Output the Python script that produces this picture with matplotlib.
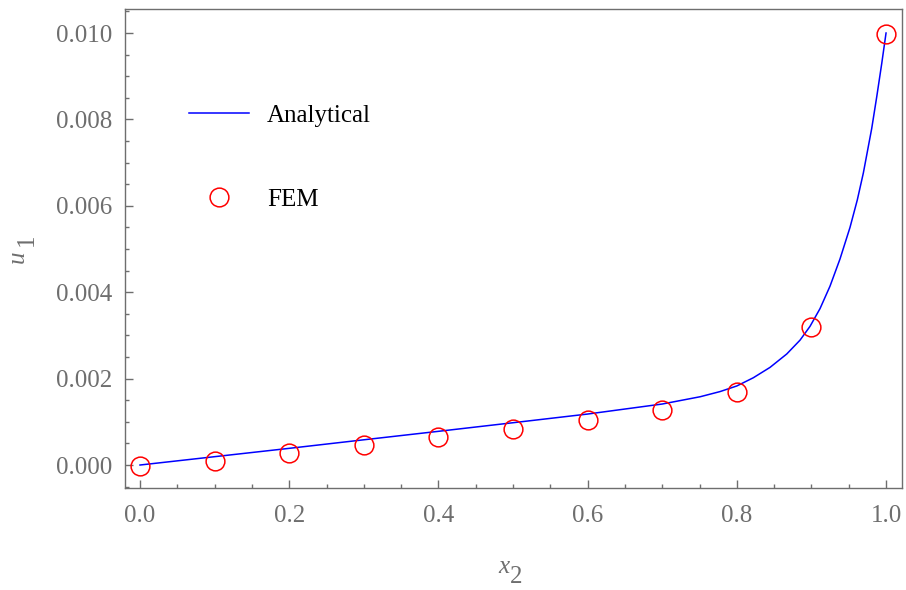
import matplotlib
matplotlib.use("Agg")
import matplotlib.pyplot as plt
from matplotlib.ticker import MultipleLocator, FormatStrFormatter

# Analytical curve, points
ana_x = [0.0, 0.1, 0.2, 0.3, 0.4, 0.5, 0.6, 0.7, 0.751, 0.7775,
         0.8, 0.8221, 0.8445, 0.8669, 0.8847, 0.8981, 0.9115, 0.9249,
         0.9383, 0.9517, 0.9615, 0.9696, 0.9808, 0.9875, 0.9942, 1.0]
ana_y = [0.0, 0.000193, 0.000386, 0.000584, 0.00078, 0.000979,
         0.00118, 0.001412, 0.001581, 0.00170, 0.00183, 0.00202, 0.00226,
         0.00257, 0.00289, 0.00321, 0.00362, 0.00414, 0.00477,
         0.00550, 0.006137, 0.006761, 0.00779, 0.00852, 0.00929, 0.0100]

# FEM points
fem_x = [0.0, 0.1, 0.2, 0.3, 0.4, 0.5, 0.6, 0.7, 0.8, 0.9, 1.0]
fem_y = [-0.00002, 0.00009, 0.00027, 0.000455, 0.00064, 0.000825,
         0.00104, 0.00127, 0.0017, 0.00319, 0.00998]

x_label = ("x", "2")
y_label = ("u", "1")
labels = ["Analytical", "FEM"]

plt.rcParams['font.family'] = ['Liberation Serif', 'DejaVu Serif']

W, H = 906, 590
gray = '#6e6e6e'
fig = plt.figure(figsize=(W / 100, H / 100), dpi=100)
ax = fig.add_axes([125/W, 1-488/H, (902-125)/W, (488-9)/H])

ax.plot(ana_x, ana_y, color=(0, 0, 1), lw=1.1, label=labels[0])
ax.plot(fem_x, fem_y, ls='none', marker='o', ms=13.5, mfc='none',
        mec=(1, 0, 0), mew=1.1, label=labels[1])

ax.set_xlim(-0.0201, 1.0214)
ax.set_ylim(-0.000532, 0.010556)

ax.xaxis.set_major_locator(MultipleLocator(0.2))
ax.xaxis.set_minor_locator(MultipleLocator(0.05))
ax.yaxis.set_major_locator(MultipleLocator(0.002))
ax.yaxis.set_minor_locator(MultipleLocator(0.0005))
ax.xaxis.set_major_formatter(FormatStrFormatter('%.1f'))
ax.yaxis.set_major_formatter(FormatStrFormatter('%.3f'))

ax.tick_params(which='both', direction='in', top=False, right=False,
               colors=gray, labelsize=18, width=1.0)
ax.tick_params(which='major', length=6)
ax.tick_params(which='minor', length=3)
ax.tick_params(axis='y', which='major', pad=9)
ax.tick_params(axis='x', which='major', pad=12)

for s in ax.spines.values():
    s.set_color(gray)
    s.set_linewidth(1.0)

# axis labels: italic letter with a full-size, lowered index
def px(x, y):
    return x / W, 1 - y / H

fig.text(*px(498, 573), x_label[0], style='italic', fontsize=18,
         color=gray, ha='left', va='baseline')
fig.text(*px(510, 583), x_label[1], fontsize=18,
         color=gray, ha='left', va='baseline')
fig.text(*px(24, 263), y_label[0], style='italic', fontsize=18,
         color=gray, ha='left', va='baseline', rotation=90,
         rotation_mode='anchor')
fig.text(*px(33, 246), y_label[1], fontsize=18,
         color=gray, ha='left', va='baseline', rotation=90,
         rotation_mode='anchor')

ax.legend(loc='upper left', bbox_to_anchor=(0.070, 0.822),
          frameon=False, fontsize=18, handlelength=2.4,
          handletextpad=0.7, labelspacing=2.45, borderaxespad=0)

fig.savefig('out.png', dpi=100)
